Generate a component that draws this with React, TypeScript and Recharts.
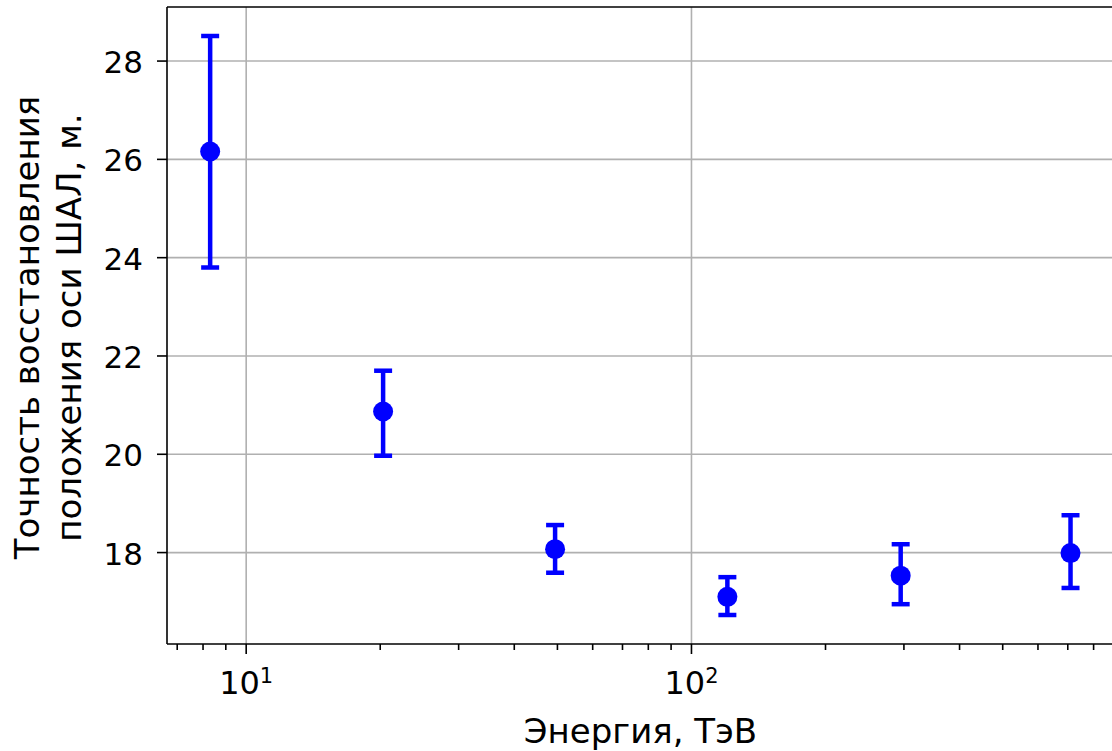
import React from 'react';
import {
  ScatterChart,
  Scatter,
  XAxis,
  YAxis,
  ErrorBar,
  ReferenceLine,
} from 'recharts';

// энергия, ТэВ
const energies = [8.3, 20.3, 49.4, 120.4, 295, 710];
// точность, м
const accuracy = [26.16, 20.87, 18.07, 17.1, 17.53, 17.99];
// ошибки [вниз, вверх]
const errLow = [2.36, 0.9, 0.48, 0.37, 0.58, 0.71];
const errHigh = [2.35, 0.83, 0.49, 0.4, 0.64, 0.77];

const xTicks = [7, 8, 9, 10, 20, 30, 40, 50, 60, 70, 80, 90, 100, 200, 300, 400, 500, 600, 700, 800];
const xMajor = [10, 100];
const yTicks = [18, 20, 22, 24, 26, 28];

const X_DOMAIN: [number, number] = [6.64, 889];
const Y_DOMAIN: [number, number] = [16.14, 29.1];

const FONT = '"DejaVu Sans", sans-serif';
const BLUE = '#0000ff';

const data = energies.map((e, i) => ({
  e,
  v: accuracy[i],
  err: [errLow[i], errHigh[i]],
}));

const XTick = (props: any) => {
  const { x, y, payload } = props;
  const major = xMajor.includes(payload.value);
  const exp = Math.round(Math.log10(payload.value));
  return (
    <g>
      <line x1={x} x2={x} y1={y} y2={y + (major ? 10 : 6)} stroke="#000" strokeWidth={1.6} />
      {major && (
        <text x={x} y={y + 50} textAnchor="middle" fontFamily={FONT} fontSize={32} fill="#000">
          10
          <tspan dy={-11} fontSize={21}>{exp}</tspan>
        </text>
      )}
    </g>
  );
};

const YTick = (props: any) => {
  const { x, y, payload } = props;
  return (
    <g>
      <line x1={x - 10} x2={x} y1={y} y2={y} stroke="#000" strokeWidth={1.6} />
      <text x={x - 24} y={y + 12} textAnchor="end" fontFamily={FONT} fontSize={31} fill="#000">
        {payload.value}
      </text>
    </g>
  );
};

const Dot = (props: any) => <circle cx={props.cx} cy={props.cy} r={10} fill={BLUE} />;

export default function App() {
  return (
    <div style={{ position: 'absolute', left: 0, top: 0, width: 1112, height: 751, overflow: 'hidden', background: '#fff' }}>
      <ScatterChart width={1120} height={751} margin={{ top: 7, right: 6, bottom: 0, left: 0 }}>
        {yTicks.map((t) => (
          <ReferenceLine key={'h' + t} y={t} stroke="#b0b0b0" strokeWidth={1.6} />
        ))}
        {xMajor.map((t) => (
          <ReferenceLine key={'v' + t} x={t} stroke="#b0b0b0" strokeWidth={1.6} />
        ))}
        <ReferenceLine y={Y_DOMAIN[1]} stroke="#000" strokeWidth={1.6} />
        <XAxis
          type="number"
          dataKey="e"
          scale="log"
          domain={X_DOMAIN}
          allowDataOverflow
          ticks={xTicks}
          interval={0}
          tick={<XTick />}
          tickLine={false}
          tickSize={0}
          tickMargin={0}
          axisLine={{ stroke: '#000', strokeWidth: 1.6 }}
          height={107}
          label={{
            content: (p: any) => {
              const vb = p.viewBox || {};
              const cx = (vb.x ?? 167) + (vb.width ?? 947) / 2;
              return (
                <text x={cx} y={743} textAnchor="middle" fontFamily={FONT} fontSize={34} fill="#000">
                  Энергия, ТэВ
                </text>
              );
            },
          }}
        />
        <YAxis
          type="number"
          dataKey="v"
          domain={Y_DOMAIN}
          allowDataOverflow
          ticks={yTicks}
          interval={0}
          tick={<YTick />}
          tickLine={false}
          tickSize={0}
          tickMargin={0}
          axisLine={{ stroke: '#000', strokeWidth: 1.6 }}
          width={167}
          label={{
            content: (p: any) => {
              const vb = p.viewBox || {};
              const cy = (vb.y ?? 7) + (vb.height ?? 637) / 2 + 2;
              return (
                <g fontFamily={FONT} fontSize={34} fill="#000">
                  <text transform={`translate(39, ${cy}) rotate(-90)`} textAnchor="middle">
                    Точность восстановления
                  </text>
                  <text transform={`translate(81, ${cy}) rotate(-90)`} textAnchor="middle">
                    положения оси ШАЛ, м.
                  </text>
                </g>
              );
            },
          }}
        />
        <Scatter data={data} fill={BLUE} shape={<Dot />} isAnimationActive={false}>
          <ErrorBar dataKey="err" direction="y" width={9} stroke={BLUE} strokeWidth={4.5} isAnimationActive={false} />
        </Scatter>
      </ScatterChart>
    </div>
  );
}
